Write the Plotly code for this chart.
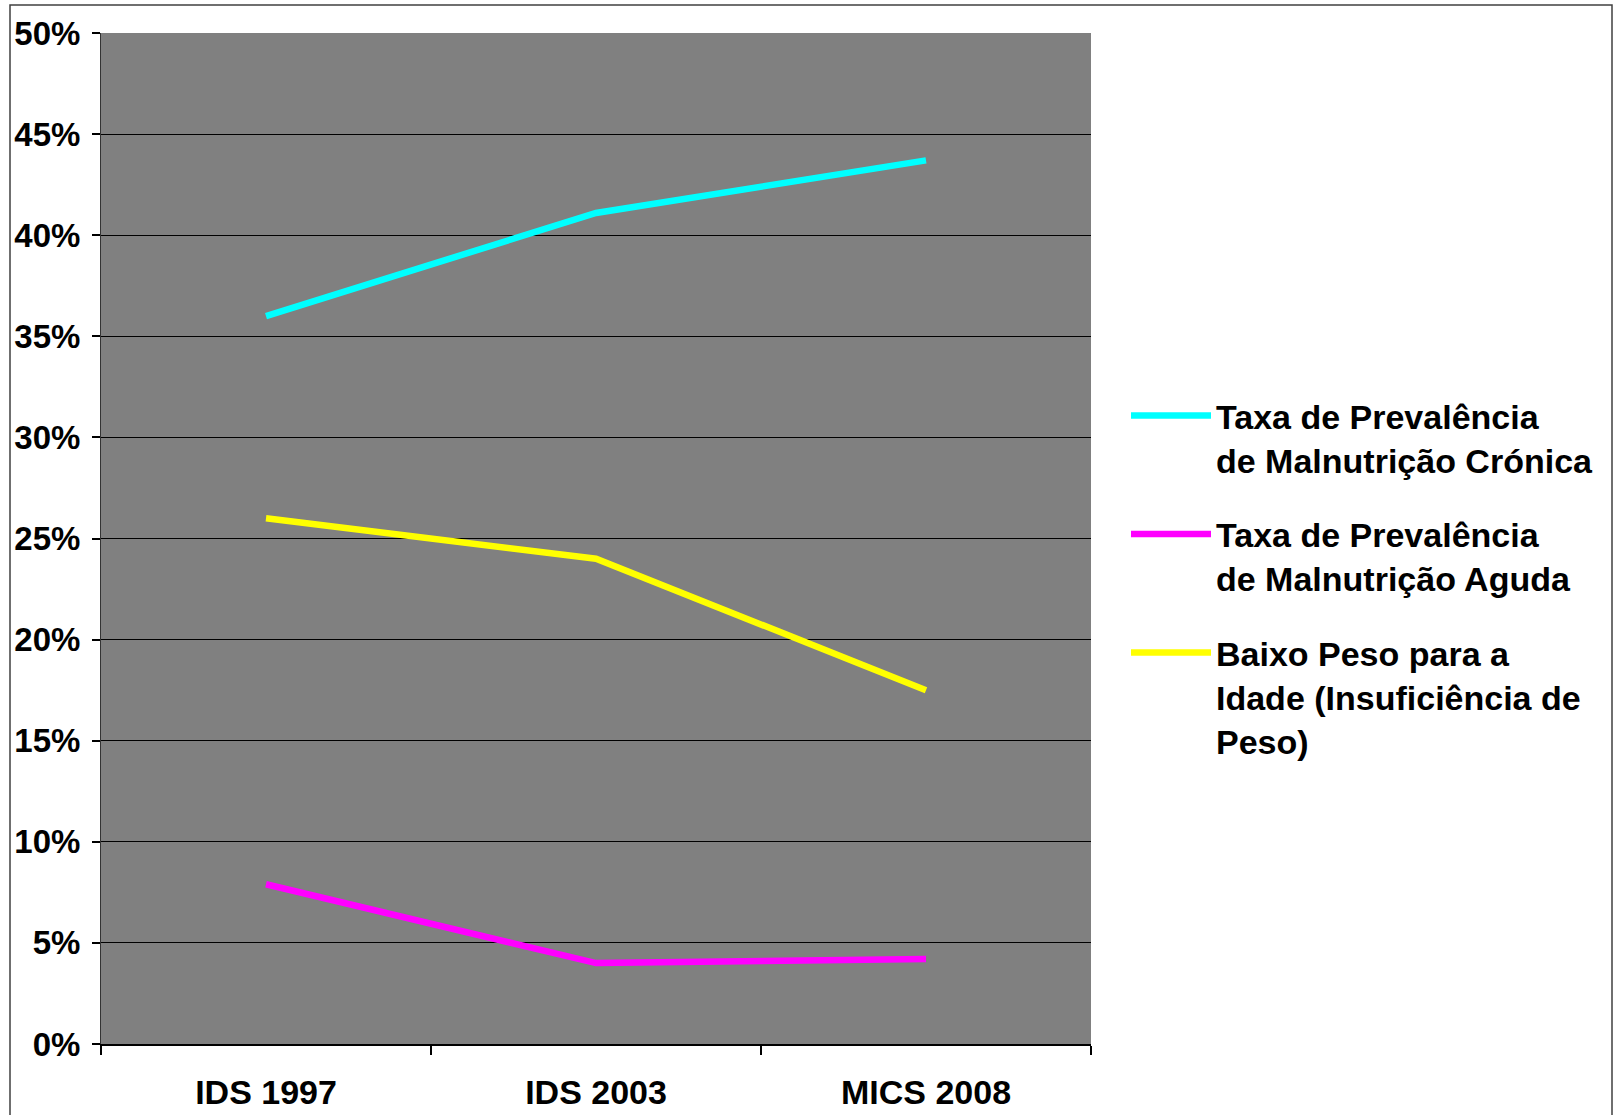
import plotly.graph_objects as go

categories = ["IDS 1997", "IDS 2003", "MICS 2008"]
cronica = [0.360, 0.411, 0.437]
aguda = [0.079, 0.040, 0.042]
baixo_peso = [0.260, 0.240, 0.175]
series_names = [
    "Taxa de Prevalência<br>de Malnutrição Crónica",
    "Taxa de Prevalência<br>de Malnutrição Aguda",
    "Baixo Peso para a<br>Idade (Insuficiência de<br>Peso)",
]
series_colors = ["#00FFFF", "#FF00FF", "#FFFF00"]
y_ticks = [0, 0.05, 0.10, 0.15, 0.20, 0.25, 0.30, 0.35, 0.40, 0.45, 0.50]

W, H = 1622, 1115
L, R, T, B = 101, 531, 33, 71
FONT = "Liberation Sans, Arial, sans-serif"

fig = go.Figure()
for vals, name, col in zip([cronica, aguda, baixo_peso], series_names, series_colors):
    fig.add_trace(go.Scatter(
        x=categories, y=vals, mode="lines", name=name,
        line=dict(color=col, width=6.5),
        legendgroup=name,
    ))

pw = W - L - R
ph = H - T - B
fig.add_shape(type="rect", xref="paper", yref="paper",
              x0=(10 - L) / pw, x1=(1612 - L) / pw,
              y0=-(B + 20) / ph, y1=1 + (T - 5) / ph,
              line=dict(color="#404040", width=1.5), layer="below")

fig.update_layout(
    width=W, height=H,
    margin=dict(l=L, r=R, t=T, b=B, pad=0, autoexpand=False),
    paper_bgcolor="white",
    plot_bgcolor="#808080",
    font=dict(family=FONT, color="black"),
    showlegend=True,
    legend=dict(
        x=(1126 - L) / pw, y=1 - (387 - T) / ph,
        xanchor="left", yanchor="top",
        font=dict(family=FONT, size=34, color="black", weight="bold"),
        bgcolor="rgba(0,0,0,0)",
        valign="top",
        traceorder="grouped",
        tracegroupgap=27,
        itemwidth=80,
    ),
    xaxis=dict(
        type="category",
        range=[-0.5, 2.5],
        automargin=False,
        showgrid=False,
        showline=True, linecolor="black", linewidth=2,
        ticks="outside", tickson="boundaries", ticklen=9, tickcolor="black", tickwidth=1.5,
        tickfont=dict(family=FONT, size=34, color="black", weight="bold"),
        ticklabelstandoff=17,
        zeroline=False,
    ),
    yaxis=dict(
        range=[0, 0.5],
        automargin=False,
        tickvals=y_ticks,
        tickformat=".0%",
        showgrid=True, gridcolor="black", gridwidth=1,
        showline=True, linecolor="#333333", linewidth=1,
        ticks="outside", ticklen=8, tickcolor="black", tickwidth=1.5,
        tickfont=dict(family=FONT, size=33, color="black", weight="bold"),
        ticklabelstandoff=5,
        zeroline=False,
    ),
)

fig.write_html("out.html")
